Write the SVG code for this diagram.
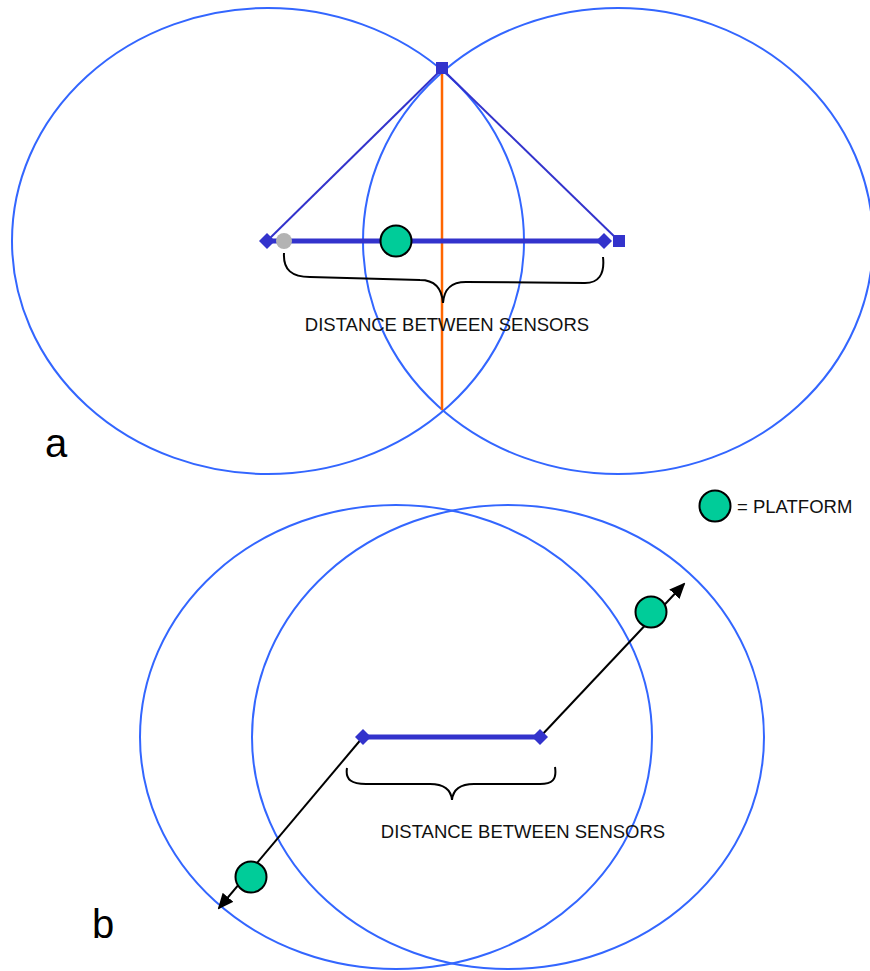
<svg xmlns="http://www.w3.org/2000/svg" width="870" height="971" viewBox="0 0 870 971">
<style>
.ring{fill:none;stroke:#3366ff;stroke-width:2}
.base{stroke:#3333cc;stroke-width:5}
.thin{stroke:#3333cc;stroke-width:2}
.plat{fill:#00cc99;stroke:#000;stroke-width:2}
.brace{fill:none;stroke:#000;stroke-width:2}
.lbl{font-family:"Liberation Sans",Arial,sans-serif;font-size:18.5px;fill:#111}
.big{font-family:"Liberation Sans",Arial,sans-serif;font-size:40px;fill:#000}
.dia{fill:#3333cc}
</style>
<defs>
<marker id="ah" markerWidth="16" markerHeight="14" refX="14" refY="7" orient="auto" markerUnits="userSpaceOnUse" viewBox="0 0 16 14">
<path d="M0,0 L16,7 L0,14 Z" fill="#000"/>
</marker>
</defs>
<rect width="870" height="971" fill="#fff"/>
<g id="part-a">
<g id="ring-a-left"><ellipse class="ring" cx="268" cy="241" rx="256" ry="233"/></g>
<g id="ring-a-right"><ellipse class="ring" cx="618" cy="241" rx="255" ry="233"/></g>
<g id="connectors-a">
<line class="thin" x1="442" y1="69" x2="267" y2="241"/>
<line class="thin" x1="442" y1="69" x2="619" y2="241"/>
<line x1="442" y1="69" x2="442" y2="410" stroke="#ff6600" stroke-width="2.5"/>
<line class="base" x1="267" y1="241" x2="604" y2="241"/>
</g>
<g id="sensor-top"><rect x="436" y="62" width="12" height="12" fill="#3333cc"/></g>
<g id="sensor-a-left">
<circle cx="284" cy="241" r="8" fill="#b3b3b3"/>
<path class="dia" d="M267,233 L275,241 L267,249 L259,241 Z"/>
</g>
<g id="sensor-a-right">
<path class="dia" d="M604,233 L612,241 L604,249 L596,241 Z"/>
<rect x="613" y="235" width="12" height="12" fill="#3333cc"/>
</g>
<g id="platform-a"><circle class="plat" cx="396" cy="241" r="15.5"/></g>
<g id="brace-a">
<path class="brace" d="M284,253 C283,270 292,277 310,277 L420,280 C436,280 442,290 443,303 C444,290 450,282 466,282 L585,283 C598,283 605,275 603,257"/>
</g>
<text class="lbl" x="447" y="331" text-anchor="middle">DISTANCE BETWEEN SENSORS</text>
<text class="big" x="45" y="457">a</text>
</g>
<g id="legend">
<circle class="plat" cx="715" cy="506" r="15.5"/>
<text class="lbl" x="737" y="513">= PLATFORM</text>
</g>
<g id="part-b">
<g id="ring-b-left"><ellipse class="ring" cx="396" cy="737" rx="256" ry="232"/></g>
<g id="ring-b-right"><ellipse class="ring" cx="508" cy="737" rx="256" ry="232"/></g>
<g id="connectors-b">
<line x1="540" y1="737" x2="684" y2="584" stroke="#000" stroke-width="2" marker-end="url(#ah)"/>
<line x1="363" y1="737" x2="219" y2="908" stroke="#000" stroke-width="2" marker-end="url(#ah)"/>
<line class="base" x1="363" y1="737" x2="540" y2="737"/>
</g>
<g id="sensor-b-left"><path class="dia" d="M363,729 L371,737 L363,745 L355,737 Z"/></g>
<g id="sensor-b-right"><path class="dia" d="M540,729 L548,737 L540,745 L532,737 Z"/></g>
<g id="platform-b-right"><circle class="plat" cx="651" cy="612" r="15.5"/></g>
<g id="platform-b-left"><circle class="plat" cx="251" cy="877" r="15.5"/></g>
<g id="brace-b">
<path class="brace" d="M347,768 C345,780 352,784 366,784 L430,784 C444,784 451,790 452,800 C453,790 460,784 474,784 L540,784 C552,784 557,780 555,767"/>
</g>
<text class="lbl" x="523" y="838" text-anchor="middle">DISTANCE BETWEEN SENSORS</text>
<text class="big" x="92" y="938">b</text>
</g>
</svg>
